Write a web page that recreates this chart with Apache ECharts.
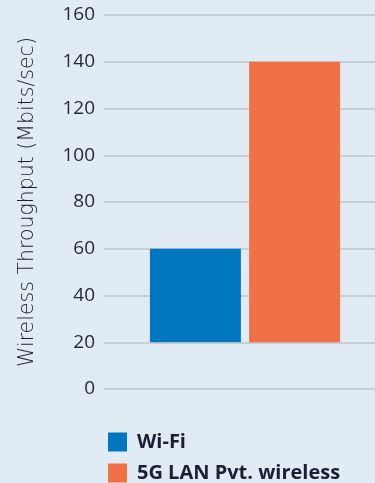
<!DOCTYPE html>
<html>
<head>
<meta charset="utf-8">
<script src="https://cdn.jsdelivr.net/npm/echarts@6/dist/echarts.min.js"></script>
<style>
  html, body { margin: 0; padding: 0; background: #e1ebf4; }
  #chart { width: 375px; height: 483px; }
</style>
</head>
<body>
<div id="chart"></div>
<script>
// data
var categories = ["Throughput"];
var seriesNames = ["Wi-Fi", "5G LAN Pvt. wireless"];
var barBase = [20];          // bars start at 20 in the original
var wifiValues = [60];
var fiveGValues = [140];
var yTicks = [0, 20, 40, 60, 80, 100, 120, 140, 160];

var chart = echarts.init(document.getElementById("chart"));

function above(values) {
  // height of the visible part, sitting on top of the base
  return values.map(function (v, i) { return v - barBase[i]; });
}

var legendText = {
  color: "#1b1f35", fontSize: 20, fontWeight: "bold",
  fontFamily: "'Open Sans', sans-serif", padding: [0, 0, 0, 5]
};
var yMin = yTicks[0], yMax = yTicks[yTicks.length - 1];

var option = {
  backgroundColor: "#e1ebf4",
  animation: false,
  textStyle: { fontFamily: "'Open Sans', sans-serif" },
  // grid 0 carries the axis + gridlines, grid 1 holds the bars (they sit a bit right of centre)
  grid: [
    { left: 104, right: 0, top: 15, bottom: 94 },
    { left: 115, right: 0, top: 15, bottom: 94 }
  ],
  // one legend per row so they stack like the original
  legend: [
    {
      data: [seriesNames[0]],
      left: 103, top: 427,
      itemWidth: 19, itemHeight: 19, itemGap: 10,
      icon: "rect",
      textStyle: legendText
    },
    {
      data: [seriesNames[1]],
      left: 103, top: 458,
      itemWidth: 19, itemHeight: 19, itemGap: 10,
      icon: "rect",
      textStyle: legendText
    }
  ],
  xAxis: [
    { type: "category", gridIndex: 0, data: categories, show: false },
    { type: "category", gridIndex: 1, data: categories, show: false }
  ],
  yAxis: [
    {
      type: "value",
      gridIndex: 0,
      min: yMin,
      max: yMax,
      interval: 20,
      name: "Wireless Throughput (Mbits/sec)",
      nameLocation: "middle",
      nameGap: 66,
      nameTextStyle: { color: "#1e2130", fontSize: 20.5, fontWeight: 300, fontFamily: "'DejaVu Sans', sans-serif" },
      axisLine: { show: false },
      axisTick: { show: false },
      axisLabel: { color: "#262938", fontSize: 19, margin: 9 },
      splitLine: { lineStyle: { color: "#c7ced6", width: 2 } }
    },
    {
      type: "value",
      gridIndex: 1,
      min: yMin,
      max: yMax,
      interval: 20,
      show: false,
      splitLine: { show: false }
    }
  ],
  series: [
    {
      name: "baseA",
      type: "bar",
      xAxisIndex: 1, yAxisIndex: 1,
      stack: "a",
      data: barBase,
      barWidth: 91,
      barGap: "9%",
      itemStyle: { color: "transparent" },
      silent: true
    },
    {
      name: seriesNames[0],
      type: "bar",
      xAxisIndex: 1, yAxisIndex: 1,
      stack: "a",
      data: above(wifiValues),
      barWidth: 91,
      itemStyle: { color: "#0077be" }
    },
    {
      name: "baseB",
      type: "bar",
      xAxisIndex: 1, yAxisIndex: 1,
      stack: "b",
      data: barBase,
      barWidth: 91,
      itemStyle: { color: "transparent" },
      silent: true
    },
    {
      name: seriesNames[1],
      type: "bar",
      xAxisIndex: 1, yAxisIndex: 1,
      stack: "b",
      data: above(fiveGValues),
      barWidth: 91,
      itemStyle: { color: "#f27045" }
    }
  ]
};
chart.setOption(option);
</script>
</body>
</html>
